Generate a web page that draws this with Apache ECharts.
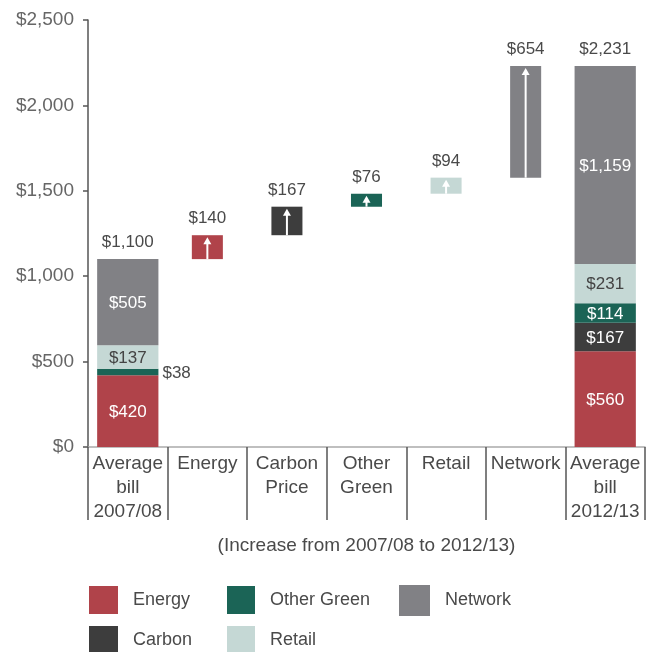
<!DOCTYPE html>
<html><head><meta charset="utf-8">
<script src="https://cdn.jsdelivr.net/npm/echarts@6/dist/echarts.min.js"></script>
<style>html,body{margin:0;padding:0;background:#fff}#c{width:656px;height:652px}</style>
</head><body><div id="c"></div>
<script>
const categories = ['Average\nbill\n2007/08', 'Energy', 'Carbon\nPrice', 'Other\nGreen', 'Retail', 'Network', 'Average\nbill\n2012/13'];
const components = ['Energy', 'Carbon', 'Other Green', 'Retail', 'Network'];
const colors = ['#b0434a', '#3d3d3d', '#1b6456', '#c5d8d5', '#818185'];
const labelColors = ['#ffffff', '#ffffff', '#ffffff', '#444444', '#ffffff'];
const bill2007 = [420, 0, 38, 137, 505];
const increases = [140, 167, 76, 94, 654];
const bill2012 = [560, 167, 114, 231, 1159];
const yTicks = [0, 500, 1000, 1500, 2000, 2500];
const axisTitle = '(Increase from 2007/08 to 2012/13)';

const FONT = '"Liberation Sans", Arial, sans-serif';
const TXT = '#4a4a4a';
const fmt = v => '$' + v.toLocaleString('en-US');
const sum = a => a.reduce((p, c) => p + c, 0);
const total2007 = sum(bill2007);
const total2012 = sum(bill2012);

function renderSeg(params, api) {
  const idx = api.value(0), s = api.value(1), e = api.value(2), v = api.value(3), inc = api.value(4);
  const comp = api.value(5);
  const bottom = api.coord([idx, s]), top = api.coord([idx, e]);
  const band = api.size([1, 0])[0];
  const w = band * (inc ? 0.39 : 0.77);
  const cx = bottom[0];
  const h = bottom[1] - top[1];
  const color = api.visual('color');
  const children = [{ type: 'rect', shape: { x: cx - w / 2, y: top[1], width: w, height: h }, style: { fill: color } }];
  const txt = fmt(v);
  if (inc) {
    children.push({ type: 'line', shape: { x1: cx, y1: bottom[1], x2: cx, y2: top[1] + 6 }, style: { stroke: '#fff', lineWidth: 2 } });
    children.push({ type: 'polygon', shape: { points: [[cx, top[1] + 2], [cx - 4, top[1] + 9], [cx + 4, top[1] + 9]] }, style: { fill: '#fff' } });
    children.push({ type: 'text', style: { text: txt, x: cx, y: top[1] - 8, align: 'center', verticalAlign: 'bottom', fill: TXT, font: '17px ' + FONT } });
  } else if (h < 16) {
    children.push({ type: 'text', style: { text: txt, x: cx + w / 2 + 4, y: (top[1] + bottom[1]) / 2 + 1, align: 'left', verticalAlign: 'middle', fill: TXT, font: '17px ' + FONT } });
  } else {
    children.push({ type: 'text', style: { text: txt, x: cx, y: (top[1] + bottom[1]) / 2 + 1, align: 'center', verticalAlign: 'middle', fill: labelColors[comp], font: '17px ' + FONT } });
  }
  return { type: 'group', children };
}

function renderTotal(params, api) {
  const idx = api.value(0), v = api.value(1);
  const p = api.coord([idx, v]);
  return { type: 'text', style: { text: fmt(v), x: p[0], y: p[1] - 8, align: 'center', verticalAlign: 'bottom', fill: TXT, font: '17px ' + FONT } };
}

const series = components.map((name, i) => {
  const data = [];
  const s07 = sum(bill2007.slice(0, i));
  if (bill2007[i] > 0) data.push([0, s07, s07 + bill2007[i], bill2007[i], 0, i]);
  const base = total2007 + sum(increases.slice(0, i));
  data.push([i + 1, base, base + increases[i], increases[i], 1, i]);
  const s12 = sum(bill2012.slice(0, i));
  data.push([categories.length - 1, s12, s12 + bill2012[i], bill2012[i], 0, i]);
  return {
    name, type: 'custom', renderItem: renderSeg, data,
    itemStyle: { color: colors[i] },
    encode: { x: 0, y: [1, 2] }
  };
});
series.push({
  name: 'totals', type: 'custom', renderItem: renderTotal,
  data: [[0, total2007], [categories.length - 1, total2012]],
  encode: { x: 0, y: 1 }
});

// legend item placement (left, top, icon w, icon h)
const legendPos = {
  'Energy': [89, 586, 29, 28],
  'Carbon': [89, 626, 29, 28],
  'Other Green': [227, 586, 28, 28],
  'Retail': [227, 626, 28, 28],
  'Network': [399, 585, 31, 31]
};
const legends = components.map(name => {
  const p = legendPos[name];
  return {
    orient: 'horizontal', icon: 'rect', left: p[0], top: p[1], padding: 0,
    itemWidth: p[2], itemHeight: p[3], selectedMode: false, data: [name],
    textStyle: { fontFamily: FONT, fontSize: 18, color: TXT, padding: [0, 0, 0, 10] }
  };
});

const option = {
  animation: false,
  backgroundColor: '#fff',
  grid: { left: 88, right: 11, top: 20, bottom: 205 },
  legend: legends,
  xAxis: {
    type: 'category', data: categories, boundaryGap: true,
    name: axisTitle, nameLocation: 'middle', nameGap: 89,
    nameTextStyle: { fontFamily: FONT, fontSize: 19, color: TXT },
    axisLine: { show: true, lineStyle: { color: '#aaaaaa', width: 1.5 } },
    axisTick: { show: true, interval: 0, length: 73, lineStyle: { color: '#555', width: 1.5 } },
    axisLabel: { interval: 0, margin: 5, fontFamily: FONT, fontSize: 19, lineHeight: 24, color: TXT, verticalAlign: 'top' }
  },
  yAxis: {
    type: 'value', min: yTicks[0], max: yTicks[yTicks.length - 1], interval: yTicks[1] - yTicks[0],
    splitLine: { show: false },
    axisLine: { show: true, lineStyle: { color: '#555', width: 1.5 } },
    axisTick: { show: true, length: 5, lineStyle: { color: '#555', width: 1.5 } },
    axisLabel: { margin: 14, fontFamily: FONT, fontSize: 19, color: '#666', formatter: v => fmt(v) }
  },
  series
};
echarts.init(document.getElementById('c')).setOption(option);
</script></body></html>
